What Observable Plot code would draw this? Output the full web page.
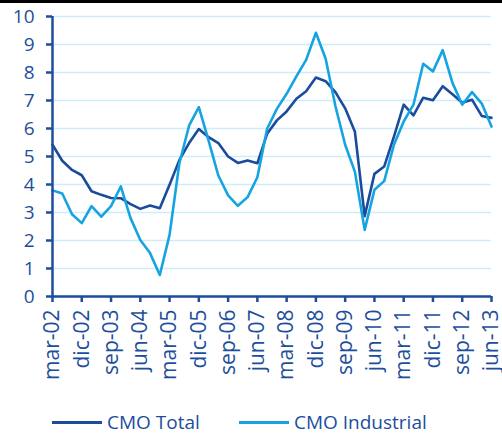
<!DOCTYPE html>
<html>
<head>
<meta charset="utf-8">
<script src="https://cdn.jsdelivr.net/npm/d3@7"></script>
<script src="https://cdn.jsdelivr.net/npm/@observablehq/plot@0.6"></script>
<style>
  html, body { margin: 0; padding: 0; background: #fff; overflow: hidden; }
  #wrap { width: 502px; border-top: 3px solid #000; }
  #chart svg { display: block; overflow: visible; }
  #legend { font-family: "Open Sans", sans-serif; font-size: 19px; line-height: 19px; color: #1c4e9c; display: flex; align-items: center; margin-top: 25px; padding-left: 52px; height: 19px; }
  .item { display: flex; align-items: center; white-space: nowrap; }
  .sw { display: inline-block; width: 50px; height: 3px; margin-right: 5px; }
</style>
</head>
<body>
<div id="wrap">
  <div id="chart"></div>
  <div id="legend"></div>
</div>
<script>
const tickLabels = ["mar-02","dic-02","sep-03","jun-04","mar-05","dic-05","sep-06","jun-07","mar-08","dic-08","sep-09","jun-10","mar-11","dic-11","sep-12","jun-13"];
const seriesNames = ["CMO Total", "CMO Industrial"];
const seriesColors = ["#1b4c9b", "#16a3e2"];
// quarterly values, mar-02 .. jun-13
const total = [5.42, 4.85, 4.52, 4.33, 3.76, 3.63, 3.52, 3.51, 3.30, 3.13, 3.25, 3.15, 3.99, 4.87, 5.48, 5.98, 5.69, 5.48, 5.00, 4.77, 4.86, 4.76, 5.81, 6.29, 6.61, 7.06, 7.33, 7.82, 7.69, 7.30, 6.72, 5.88, 2.87, 4.38, 4.64, 5.71, 6.85, 6.47, 7.10, 7.01, 7.51, 7.22, 6.92, 7.03, 6.45, 6.38];
const industrial = [3.79, 3.68, 2.94, 2.62, 3.23, 2.85, 3.23, 3.93, 2.80, 2.02, 1.55, 0.77, 2.20, 4.75, 6.10, 6.76, 5.57, 4.32, 3.61, 3.24, 3.55, 4.26, 5.99, 6.70, 7.24, 7.86, 8.45, 9.42, 8.49, 6.80, 5.42, 4.45, 2.38, 3.81, 4.12, 5.42, 6.25, 6.85, 8.31, 8.04, 8.80, 7.63, 6.85, 7.30, 6.89, 6.07];
const yTicks = [0,1,2,3,4,5,6,7,8,9,10];

const axisColor = "#1c4e9c";
const gridColor = "#cdedfa";

const data = [];
total.forEach((v, i) => data.push({q: i, v, s: seriesNames[0]}));
industrial.forEach((v, i) => data.push({q: i, v, s: seriesNames[1]}));

const xTicks = tickLabels.map((_, k) => k * 3);

const chart = Plot.plot({
  width: 502,
  height: 385,
  marginTop: 13,
  marginLeft: 52,
  marginRight: 11,
  marginBottom: 92,
  style: {fontFamily: "Open Sans, sans-serif", fontSize: "19px", color: axisColor, background: "transparent", overflow: "visible"},
  x: {domain: [0, total.length - 1]},
  y: {domain: [0, 10]},
  color: {domain: seriesNames, range: seriesColors},
  marks: [
    Plot.gridY({ticks: yTicks, stroke: gridColor, strokeOpacity: 1, strokeWidth: 1.6}),
    Plot.line(data, {x: "q", y: "v", stroke: "s", strokeWidth: 2.6}),
    Plot.axisY({ticks: yTicks, tickSize: 6, tickPadding: 12, label: null, stroke: axisColor, strokeWidth: 2.5, fill: axisColor, fontSize: 19}),
    Plot.axisX({ticks: xTicks, tickFormat: i => tickLabels[i / 3], tickRotate: -90, tickSize: 6, tickPadding: 7, label: null, stroke: axisColor, strokeWidth: 2.5, fill: axisColor, fontSize: 21}),
    Plot.ruleX([0], {stroke: axisColor, strokeWidth: 2.5}),
    Plot.ruleY([0], {stroke: axisColor, strokeWidth: 2.5})
  ]
});
document.getElementById("chart").appendChild(chart);

const legend = document.getElementById("legend");
seriesNames.forEach((name, k) => {
  const item = document.createElement("div");
  item.className = "item";
  if (k === 0) item.style.width = "187px";
  const sw = document.createElement("span");
  sw.className = "sw";
  sw.style.background = seriesColors[k];
  const t = document.createElement("span");
  t.textContent = name;
  item.appendChild(sw);
  item.appendChild(t);
  legend.appendChild(item);
});
</script>
</body>
</html>
